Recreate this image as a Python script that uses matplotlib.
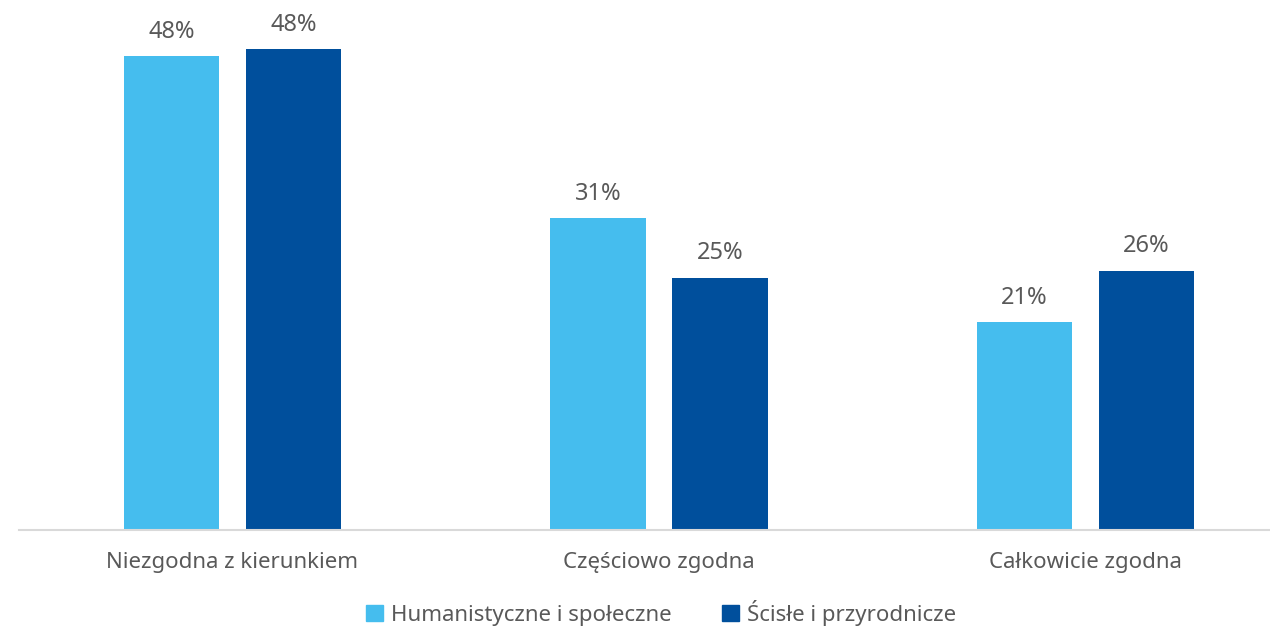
import numpy as np
import matplotlib
matplotlib.use('Agg')
import matplotlib.pyplot as plt
from matplotlib.patches import Patch

plt.rcParams['font.family'] = ['Noto Sans', 'DejaVu Sans']

# Dane
kategorie = ['Niezgodna z kierunkiem', 'Częściowo zgodna', 'Całkowicie zgodna']
serie = ['Humanistyczne i społeczne', 'Ścisłe i przyrodnicze']
humanistyczne = [47.7, 31.4, 20.9]
scisle = [48.4, 25.4, 26.1]
kolory = ['#45BDEE', '#004F9C']
tekst = '#595959'

fig = plt.figure(figsize=(12.7, 6.29), dpi=100)
ax = fig.add_axes([19.25 / 1270, 1 - 530 / 629, 1279.5 / 1270, 530 / 629])

x = np.arange(len(kategorie))
w = 0.223
off = 0.143

for vals, dx, kol in [(humanistyczne, -off, kolory[0]), (scisle, off, kolory[1])]:
    bars = ax.bar(x + dx, vals, w, color=kol, zorder=2)
    for b, v in zip(bars, vals):
        ax.annotate(f'{round(v)}%', (b.get_x() + b.get_width() / 2, v),
                    xytext=(0, 9), textcoords='offset points',
                    ha='center', va='bottom', fontsize=17, color=tekst)

ax.set_xlim(-0.5, 2.5)
ax.set_ylim(0, 53.37)
ax.set_yticks([])
for s in ['left', 'right', 'top']:
    ax.spines[s].set_visible(False)
ax.spines['bottom'].set_color('#D9D9D9')
ax.spines['bottom'].set_linewidth(1.5)
ax.set_xticks(x)
ax.set_xticklabels(kategorie, fontsize=16, color=tekst)
ax.tick_params(axis='x', length=0, pad=16)

uchwyty = [Patch(color=k) for k in kolory]
fig.legend(uchwyty, serie, loc='center', bbox_to_anchor=(661 / 1270, 1 - 613 / 629),
           ncol=2, frameon=False, fontsize=16, labelcolor=tekst,
           handlelength=0.75, handleheight=0.75, handletextpad=0.35, columnspacing=2.3,
           borderpad=0.1)

fig.savefig('out.png', dpi=100)
